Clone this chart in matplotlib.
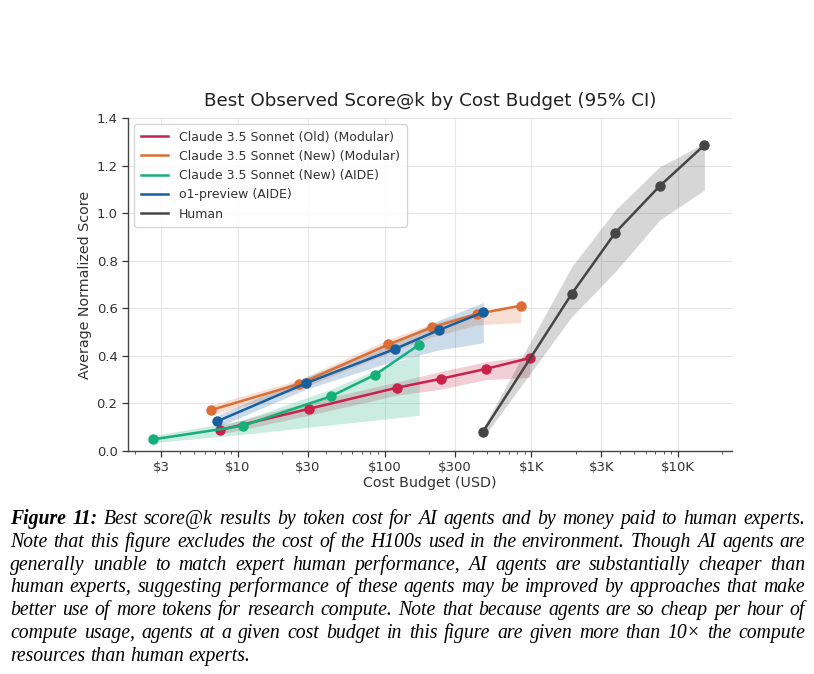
import matplotlib
matplotlib.use("Agg")
import matplotlib.pyplot as plt
from matplotlib.ticker import FixedLocator, LogLocator, NullFormatter

# ----------------------------
# Data
# ----------------------------
old_mod_x = [7.5, 30.3, 121, 243, 488, 977]
old_mod_y = [0.088, 0.177, 0.266, 0.304, 0.345, 0.391]
old_mod_lo = [0.07, 0.15, 0.235, 0.26, 0.30, 0.31]
old_mod_hi = [0.105, 0.205, 0.29, 0.335, 0.375, 0.40]

new_mod_x = [6.55, 26.2, 106, 211, 424, 845]
new_mod_y = [0.172, 0.282, 0.448, 0.52, 0.576, 0.611]
new_mod_lo = [0.151, 0.26, 0.41, 0.48, 0.53, 0.54]
new_mod_hi = [0.193, 0.30, 0.47, 0.535, 0.585, 0.615]

new_aide_x = [2.65, 10.8, 43, 86.3, 172]
new_aide_y = [0.049, 0.106, 0.23, 0.321, 0.447]
new_aide_lo = [0.035, 0.07, 0.11, 0.13, 0.15]
new_aide_hi = [0.065, 0.13, 0.26, 0.34, 0.41]

o1_x = [7.22, 29.1, 117.5, 235, 470]
o1_y = [0.125, 0.285, 0.429, 0.509, 0.583]
o1_lo = [0.10, 0.26, 0.38, 0.425, 0.455]
o1_hi = [0.15, 0.31, 0.46, 0.55, 0.625]

human_x = [466, 1884, 3733, 7493, 15100]
human_y = [0.079, 0.661, 0.918, 1.114, 1.286]
human_lo = [0.053, 0.565, 0.754, 0.971, 1.097]
human_hi = [0.095, 0.775, 1.013, 1.195, 1.293]

series = [
    ("Claude 3.5 Sonnet (Old) (Modular)", "#c8224a", old_mod_x, old_mod_y, old_mod_lo, old_mod_hi),
    ("Claude 3.5 Sonnet (New) (Modular)", "#dc6d34", new_mod_x, new_mod_y, new_mod_lo, new_mod_hi),
    ("Claude 3.5 Sonnet (New) (AIDE)", "#13b07a", new_aide_x, new_aide_y, new_aide_lo, new_aide_hi),
    ("o1-preview (AIDE)", "#175f9e", o1_x, o1_y, o1_lo, o1_hi),
    ("Human", "#454545", human_x, human_y, human_lo, human_hi),
]

tick_vals = [3, 10, 30, 100, 300, 1000, 3000, 10000]
tick_labels = ["$3", "$10", "$30", "$100", "$300", "$1K", "$3K", "$10K"]

caption_lines = [
    "Best score@k results by token cost for AI agents and by money paid to human experts.",
    "Note that this figure excludes the cost of the H100s used in the environment. Though AI agents are",
    "generally unable to match expert human performance, AI agents are substantially cheaper than",
    "human experts, suggesting performance of these agents may be improved by approaches that make",
    "better use of more tokens for research compute. Note that because agents are so cheap per hour of",
    "compute usage, agents at a given cost budget in this figure are given more than 10\u00d7 the compute",
    "resources than human experts.",
]

# ----------------------------
# Figure
# ----------------------------
plt.rcParams["font.family"] = ["DejaVu Sans"]
fig = plt.figure(figsize=(8.14, 6.74), dpi=100)
ax = fig.add_axes([128 / 814, 1 - 451 / 674, (732 - 128) / 814, (451 - 118) / 674])

for name, col, x, y, lo, hi in series:
    ax.fill_between(x, lo, hi, color=col, alpha=0.22, linewidth=0)
    ax.plot(x, y, color=col, lw=1.8, marker="o", ms=6.5, label=name)

ax.set_xscale("log")
ax.set_xlim(1.78, 23300)
ax.set_ylim(0, 1.4)
ax.xaxis.set_major_locator(FixedLocator(tick_vals))
ax.set_xticklabels(tick_labels)
ax.xaxis.set_minor_locator(LogLocator(base=10, subs=range(2, 10)))
ax.xaxis.set_minor_formatter(NullFormatter())
ax.set_yticks([0, 0.2, 0.4, 0.6, 0.8, 1.0, 1.2, 1.4])
ax.set_yticklabels(["0.0", "0.2", "0.4", "0.6", "0.8", "1.0", "1.2", "1.4"])

ax.grid(True, which="major", color="#e6e6e6", lw=0.8)
ax.set_axisbelow(True)
for s in ["top", "right"]:
    ax.spines[s].set_visible(False)
for s in ["left", "bottom"]:
    ax.spines[s].set_color("#444444")
    ax.spines[s].set_linewidth(1.0)
ax.tick_params(axis="both", which="major", labelsize=9.5, colors="#333333", length=4, width=0.9)
ax.tick_params(axis="x", which="minor", length=2.5, width=0.7, colors="#555555")

ax.set_title("Best Observed Score@k by Cost Budget (95% CI)", fontsize=13.2, color="#222222", pad=9)
ax.set_xlabel("Cost Budget (USD)", fontsize=10.3, color="#333333", labelpad=1)
ax.set_ylabel("Average Normalized Score", fontsize=10.3, color="#333333", labelpad=3)

leg = ax.legend(loc="upper left", fontsize=9.0, frameon=True, handlelength=2.2,
                borderpad=0.5, labelspacing=0.5, handletextpad=0.9,
                bbox_to_anchor=(0.0, 1.0))
for h in leg.legend_handles:
    h.set_marker("")
leg.get_frame().set_edgecolor("#cccccc")
for t in leg.get_texts():
    t.set_color("#333333")

# ----------------------------
# Caption (justified, Times-like italic)
# ----------------------------
renderer = fig.canvas.get_renderer()
cap_font = dict(family="Liberation Serif", style="italic", size=14.2, color="black")
left_px, right_px = 10, 805
base_y = 524
line_gap = 22.8


def word_width(txt, **kw):
    t = fig.text(0, 0, txt, **kw)
    w = t.get_window_extent(renderer).width
    t.remove()
    return w


space_w = word_width("a b", **cap_font) - word_width("ab", **cap_font)

for i, line in enumerate(caption_lines):
    y = 1 - (base_y + i * line_gap) / 674
    words = line.split(" ")
    styles = [cap_font] * len(words)
    if i == 0:
        words = ["Figure", "11:"] + words
        bold = dict(cap_font, weight="bold")
        styles = [bold, bold] + [cap_font] * (len(words) - 2)
    widths = [word_width(w, **st) for w, st in zip(words, styles)]
    if i < len(caption_lines) - 1:
        gap = (right_px - left_px - sum(widths)) / (len(words) - 1)
    else:
        gap = space_w
    xpos = left_px
    for w, st, wd in zip(words, styles, widths):
        fig.text(xpos / 814, y, w, va="baseline", ha="left", **st)
        xpos += wd + gap

fig.savefig("out.png", dpi=100)
